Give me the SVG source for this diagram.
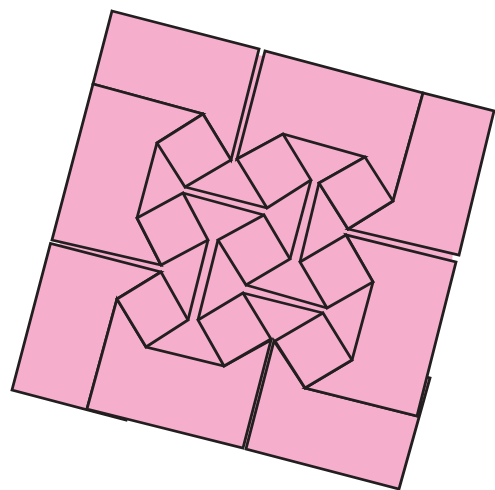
<svg xmlns="http://www.w3.org/2000/svg" width="495" height="490" viewBox="0 0 495 490">
<style>
polygon,polyline{fill:#f5aecb;stroke:#231f20;stroke-width:2.8;stroke-linejoin:miter;stroke-miterlimit:6}
polyline{fill:none}
#base{stroke:none}
</style>
<rect width="495" height="490" fill="#fff"/>
<polygon id="base" points="112,11 259,49 258.5,55 264.5,56.5 265,51 494,111 459,255 453,254 452,260.5 456,262 427,378 430,378 399,489 246,449 245,445 243,448 12,390 50.5,243.5 59,246 60,242 52,240"/>
<g id="outer-pieces">
<polygon id="a1" points="112,11 259,49 231,160 203,114 93,84"/>
<polygon id="b1" points="93,84 203,114 157,143 137,218 161,265 52,240"/>
<polygon id="b2" points="423,93 393,201 348,229 319,183 365,157 283,134 237,159 265,51"/>
<polygon id="a2" points="494,111 459,255 348,229 393,201 423,93"/>
<polygon id="a3" points="399,489 246,449 274,341 305,388 417,416 426,377 430,378"/>
<polygon id="b3" points="417,416 305,388 352,360 373,282 346,235 456,262"/>
<polygon id="a4" points="12,390 50.5,243.5 161,272 117,299 87,409 127,414 126,420"/>
<polygon id="b4" points="87,409 243,448 271,340 224,366 146,347 117,299"/>
</g>
<g id="squares">
<polygon id="s1" points="157,143 203,114 231,160 185,187"/>
<polygon id="s2" points="237,159 283,134 311,180 267,208"/>
<polygon id="s3" points="319,183 365,157 393,201 348,229"/>
<polygon id="s4" points="137,218 183,193 208,240 161,265"/>
<polygon id="s5" points="218,240 264,215 290,259 246,285"/>
<polygon id="s6" points="300,262 346,235 373,282 327,308"/>
<polygon id="s7" points="117,299 161,272 188,320 146,347"/>
<polygon id="s8" points="198,320 243,293 271,339 224,366"/>
<polygon id="s9" points="275,341 323,313 352,360 305,388"/>
</g>
<g id="inner-lines">
<polyline points="185,187 267,208"/>
<polyline points="311,180 290,259"/>
<polyline points="319,183 300,262"/>
<polyline points="183,193 264,215"/>
<polyline points="208,240 188,320"/>
<polyline points="218,240 198,320"/>
<polyline points="246,285 327,308"/>
<polyline points="243,293 323,313"/>
</g>
</svg>
